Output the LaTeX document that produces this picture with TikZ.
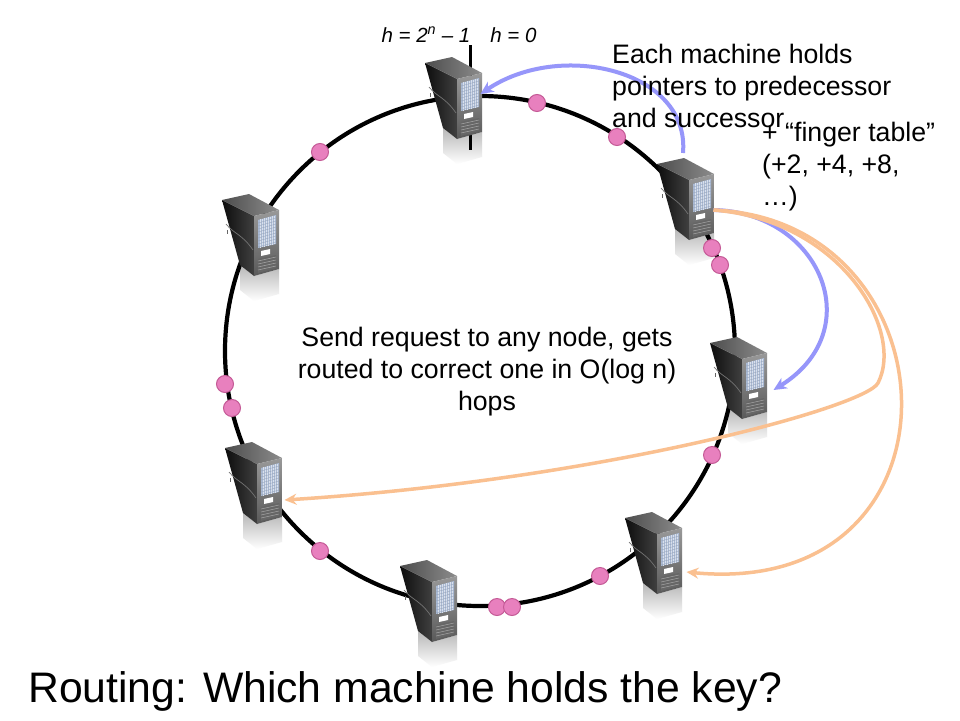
\documentclass[tikz,border=0pt]{standalone}
\usepackage{fontspec}
\setmainfont{Liberation Sans}
\usetikzlibrary{arrows.meta,calc}
\definecolor{lav}{RGB}{150,150,250}
\definecolor{org}{RGB}{250,192,144}
\definecolor{pinkf}{RGB}{232,128,190}
\definecolor{pinkd}{RGB}{196,90,150}
\definecolor{mesh}{RGB}{170,186,212}
\tikzset{
  srv/.style={minimum width=57pt, minimum height=82pt, inner sep=0pt, outer sep=0pt},
  pdot/.style={circle, fill=pinkf, draw=pinkd, line width=1pt, minimum size=17pt, inner sep=0pt},
  ring/.style={line width=4.2pt, black},
  lavarrow/.style={line width=4pt, lav, -{Stealth[length=13pt,width=12pt,inset=4pt]}},
  orgarrow/.style={line width=3.5pt, org, -{Stealth[length=12pt,width=11pt,inset=4pt]}},
  txt/.style={font=\fontsize{26.7}{32}\selectfont, inner sep=0pt, align=left},
  serverrefl/.pic={
    \shade[top color=black!28, bottom color=white] (-12,27) -- (2,38) -- (27,31) -- (27,56) -- (2,63) -- (-12,52) -- cycle;
  },
  server/.pic={
    % side face
    \shade[left color=black!95, right color=black!75] (-30,-38) -- (2,-22) -- (2,38) -- (-12,27) -- cycle;
    % top face
    \shade[left color=black!70, right color=black!45] (-30,-38) -- (-3,-44) -- (27,-28) -- (2,-22) -- cycle;
    % front face
    \shade[top color=black!40, bottom color=black!65] (2,-22) -- (27,-28) -- (27,31) -- (2,38) -- cycle;
    % mesh
    \fill[mesh] (6,-18) -- (24,-23) -- (24,6) -- (6,10) -- cycle;
    \foreach \xx in {8,10,...,22}
      \draw[white!55!mesh, line width=0.4pt] (\xx,{-18-5*(\xx-6)/18}) -- (\xx,{10-4*(\xx-6)/18});
    \foreach \k in {0,...,8}
      \draw[black!15!mesh, line width=0.3pt] (6,-15+3*\k) -- (24,{-20+3*\k});
    % white label
    \fill[white] (9,13) -- (18,11) -- (18,16) -- (9,18) -- cycle;
    % lower bay
    \fill[black!60] (6,21) -- (24,17) -- (24,30) -- (6,35) -- cycle;
    \foreach \k in {0,...,3}
      \draw[black!35, line width=.5pt] (6,{23+3*\k}) -- (24,{19+3*\k});
    % side decoration
    \draw[black!55, line width=.7pt] (-26,-14) .. controls (-18,-4) and (-10,-4) .. (1,12);
    \draw[black!60, line width=.5pt] (-25,-8) -- (-25,-4);
  }
}
\begin{document}
\begin{tikzpicture}[x=1pt,y=-1pt]
  \fill[white] (0,0) rectangle (960,720);
  \useasboundingbox (0,0) rectangle (960,720);

  % servers (positions)
  \node[srv] (s1) at (455,101) {};
  \node[srv] (s2) at (687,202) {};
  \node[srv] (s3) at (252,238) {};
  \node[srv] (s4) at (740,381) {};
  \node[srv] (s5) at (255,486) {};
  \node[srv] (s6) at (430,604) {};
  \node[srv] (s7) at (655,556) {};
  \foreach \s in {s1,s2,s3,s4,s5,s6,s7} \pic at (\s) {serverrefl};

  % ring
  \coordinate (ctr) at (480,351);
  \draw[ring] (ctr) circle[radius=255];
  % hash boundary line
  \coordinate (vt) at (470,45);
  \coordinate (vb) at (470,150);
  \draw[line width=3pt] (vt) -- (vb);

  \foreach \s in {s1,s2,s3,s4,s5,s6,s7} \pic at (\s) {server};

  % key dots
  \node[pdot] (d1) at (537,103) {};
  \node[pdot] (d2) at (617,137) {};
  \node[pdot] (d3) at (320,152) {};
  \node[pdot] (d4) at (712,248) {};
  \node[pdot] (d5) at (720,265) {};
  \node[pdot] (d6) at (225,384) {};
  \node[pdot] (d7) at (232,408) {};
  \node[pdot] (d8) at (712,455) {};
  \node[pdot] (d9) at (320,551) {};
  \node[pdot] (d10) at (600,576) {};
  \node[pdot] (d11) at (497,607) {};
  \node[pdot] (d12) at (512,607) {};

  % arrows
  \draw[lavarrow] ([shift={(-4,-8)}]s2.north) .. controls (690,70) and (560,40) .. ([shift={(-3,-7)}]s1.east);
  \draw[lavarrow] ([shift={(-2,8)}]s2.east) .. controls (820,212) and (870,330) .. ([shift={(5,9)}]s4.east);
  \draw[orgarrow] ([shift={(-2,8)}]s2.east) .. controls (840,220) and (905,330) .. (878,383)
        .. controls (866,407) and (600,480) .. ([shift={(1,14)}]s5.east);
  \draw[orgarrow] ([shift={(-2,8)}]s2.east) .. controls (960,220) and (975,600) .. ([shift={(3,16)}]s7.east);

  % texts
  \node[font=\fontsize{20.5}{24}\selectfont\itshape, inner sep=0pt] (hl) at (459,35) {h = 2\textsuperscript{n} – 1\hspace{20pt}h = 0};
  \node[txt, anchor=north west] (t1) at (612,44) {Each machine holds\\pointers to predecessor\\and successor};
  \node[txt, anchor=north west] (t2) at (762,122) {+ “finger table”\\(+2, +4, +8,\\…)};
  \node[txt, align=center] (t3) at (487,372) {Send request to any node, gets\\routed to correct one in O(log n)\\hops};
  \node[font=\fontsize{42.7}{50}\selectfont, anchor=base west, inner sep=0pt] (title) at (28,702) {Routing: Which machine holds the key?};
\end{tikzpicture}
\end{document}
